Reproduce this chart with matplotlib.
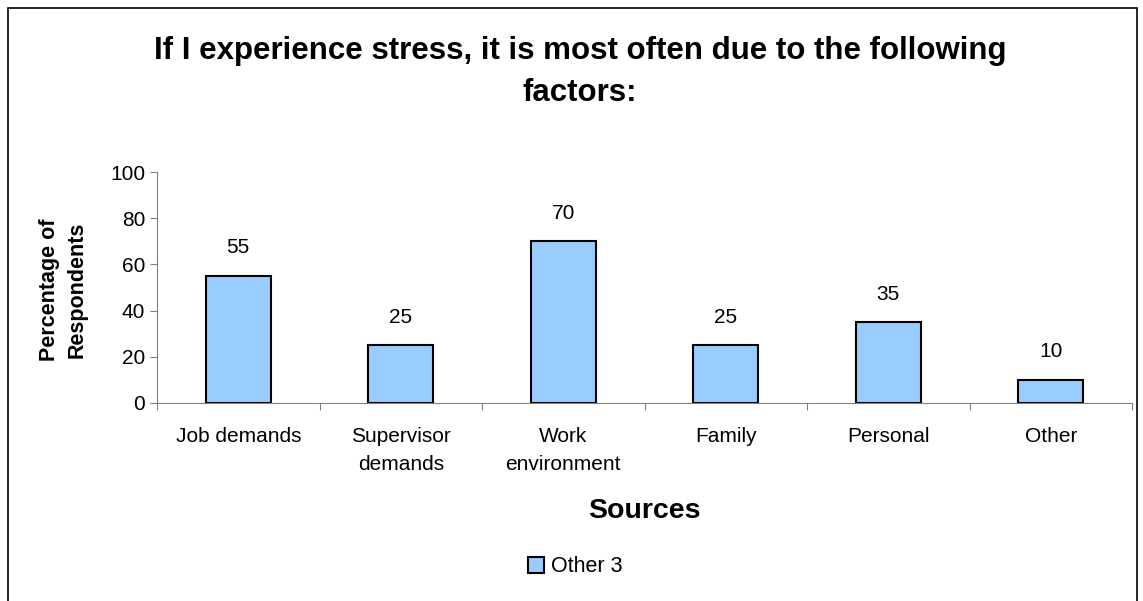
import matplotlib.pyplot as plt
from matplotlib.patches import Rectangle
import numpy as np

plt.rcParams['font.family'] = ['Liberation Sans', 'DejaVu Sans']

categories = ['Job demands', 'Supervisor\ndemands', 'Work\nenvironment', 'Family', 'Personal', 'Other']
values = [55, 25, 70, 25, 35, 10]
series_name = 'Other 3'

fig = plt.figure(figsize=(11.43, 6.01), dpi=100)
ax = fig.add_axes([157/1143, 1 - 403/601, (1132-157)/1143, (403-172)/601])

x = np.arange(len(categories))
bars = ax.bar(x, values, width=0.4, color='#99CCFF', edgecolor='black', linewidth=1.5, label=series_name)

# value labels above bars
for xi, v in zip(x, values):
    ax.text(xi, v + 8, str(v), ha='center', va='bottom', fontsize=15)

ax.set_xlim(-0.5, len(categories) - 0.5)
ax.set_ylim(0, 100)
ax.set_yticks(np.arange(0, 101, 20))
ax.tick_params(axis='y', labelsize=15, direction='out', length=5, color='#808080')

# category ticks between bars, labels centered on bars
ax.set_xticks(np.arange(-0.5, len(categories), 1))
ax.set_xticklabels([])
ax.set_xticks(x, minor=True)
ax.set_xticklabels(categories, minor=True, fontsize=15, linespacing=1.65)
ax.tick_params(axis='x', which='major', direction='out', length=5, color='#808080')
ax.tick_params(axis='x', which='minor', length=0, pad=17)

for s in ['top', 'right']:
    ax.spines[s].set_visible(False)
ax.spines['left'].set_color('#808080')
ax.spines['bottom'].set_color('#808080')

fig.text(63/1143, 1 - 290/601, 'Percentage of\nRespondents', rotation=90, ha='center', va='center',
         fontsize=15.5, fontweight='bold', linespacing=1.4)
fig.text(644/1143, 1 - 511/601, 'Sources', ha='center', va='center', fontsize=20.5, fontweight='bold')
fig.text(580/1143, 1 - 72/601, 'If I experience stress, it is most often due to the following\nfactors:',
         ha='center', va='center', fontsize=22.5, fontweight='bold', linespacing=1.5)

fig.legend(handles=[bars], labels=[series_name], loc='center', bbox_to_anchor=(575/1143, 1 - 567/601),
           frameon=False, fontsize=15.5, handlelength=0.75, handleheight=0.75, handletextpad=0.3)

# outer border
fig.patches.append(Rectangle((8/1143, -0.01), (1137-8)/1143, 1 - 8/601 + 0.01, transform=fig.transFigure,
                             fill=False, edgecolor='black', linewidth=1.2))

fig.savefig('out.png', dpi=100)
